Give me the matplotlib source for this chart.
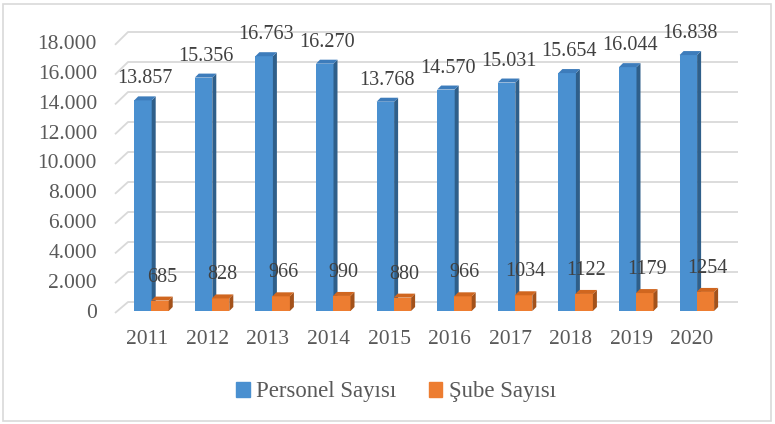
import matplotlib
matplotlib.use("Agg")
import matplotlib.pyplot as plt
from matplotlib.patches import Polygon, Rectangle

years = ["2011", "2012", "2013", "2014", "2015", "2016", "2017", "2018", "2019", "2020"]
personel = [13857, 15356, 16763, 16270, 13768, 14570, 15031, 15654, 16044, 16838]
sube = [685, 828, 966, 990, 880, 966, 1034, 1122, 1179, 1254]
personel_labels = ["13.857", "15.356", "16.763", "16.270", "13.768", "14.570", "15.031", "15.654", "16.044", "16.838"]
sube_labels = ["685", "828", "966", "990", "880", "966", "1034", "1122", "1179", "1254"]
yticks = [0, 2000, 4000, 6000, 8000, 10000, 12000, 14000, 16000, 18000]
ytick_labels = ["0", "2.000", "4.000", "6.000", "8.000", "10.000", "12.000", "14.000", "16.000", "18.000"]
series_names = ["Personel Sayısı", "Şube Sayısı"]

plt.rcParams['font.family'] = ['Liberation Serif', 'DejaVu Serif']

W, H = 775, 424
fig = plt.figure(figsize=(W / 100, H / 100), dpi=100)

# pixel geometry of the plot
PX_C0 = 146.7      # pixel x of first category
PX_STEP = 60.6     # pixels per category
PY_0 = 311.0       # pixel y of value 0 (front)
PY_K = 0.0152      # pixels per unit value
ax_left_px, ax_right_px = 100, 745
ax_top_px, ax_bot_px = 15, 330

ax = fig.add_axes([ax_left_px / W, 1 - ax_bot_px / H,
                   (ax_right_px - ax_left_px) / W, (ax_bot_px - ax_top_px) / H])
ax.set_xlim((ax_left_px - PX_C0) / PX_STEP, (ax_right_px - PX_C0) / PX_STEP)
ax.set_ylim(-(ax_bot_px - PY_0) / PY_K, (PY_0 - ax_top_px) / PY_K)
ax.axis("off")

def dx(px):
    return px / PX_STEP

def dy(px):
    return px / PY_K

# background wall gridlines (3D look)
grid_c = "#d9d9d9"
for v, lab in zip(yticks, ytick_labels):
    y_front = v * (14.9 / 15.2) - dy(2)
    y_back = v * (15.0 / 15.2) + dy(9)
    ax.plot([dx(115 - PX_C0), dx(128 - PX_C0), dx(738 - PX_C0)],
            [y_front, y_back, y_back], color=grid_c, lw=1.3, zorder=1,
            solid_capstyle="butt")
    ax.text(dx(97 - PX_C0), y_front, lab,
            ha="right", va="center", fontsize=15.5, color="#595959")

# bars
bw = dx(17.5)
ddx, ddy = dx(4), dy(4)
styles = [
    dict(off=dx(-12.5), front="#4a90d0", top="#3d7cbb", side="#2f5f8a"),
    dict(off=dx(4.5), front="#ed7d31", top="#d0661f", side="#a3521b"),
]
for s_i, (vals, labs) in enumerate([(personel, personel_labels), (sube, sube_labels)]):
    st = styles[s_i]
    for i, (v, lab) in enumerate(zip(vals, labs)):
        L = i + st["off"]
        z = 3 + s_i
        ax.bar(L, v, width=bw, align="edge", color=st["front"], zorder=z, lw=0)
        side = Polygon([(L + bw, 0), (L + bw + ddx, ddy), (L + bw + ddx, v + ddy), (L + bw, v)],
                       closed=True, facecolor=st["side"], lw=0, zorder=z)
        top = Polygon([(L, v), (L + ddx, v + ddy), (L + bw + ddx, v + ddy), (L + bw, v)],
                      closed=True, facecolor=st["top"], lw=0, zorder=z)
        ax.add_patch(side)
        ax.add_patch(top)
        gap = dy(8) if s_i == 0 else dy(10)
        ax.text(L + (bw + ddx) / 2, v + ddy + gap, lab, ha="center", va="bottom",
                fontsize=14.5, color="#404040", zorder=10)

# category labels
for i, y in enumerate(years):
    ax.text(i, -dy(28), y, ha="center", va="center", fontsize=15.5, color="#595959")

# legend
handles = [Rectangle((0, 0), 1, 1, color=styles[0]["front"]),
           Rectangle((0, 0), 1, 1, color=styles[1]["front"])]
fig.legend(handles, series_names, loc="center", bbox_to_anchor=(396 / W, 1 - 392 / H),
           ncol=2, frameon=False, fontsize=16.4, handlelength=0.6, handleheight=0.6,
           handletextpad=0.3, columnspacing=1.4, labelcolor="#595959")

# outer chart border
fig.add_artist(Rectangle((3 / W, 3 / H), (W - 7) / W, (H - 7) / H, transform=fig.transFigure,
                         fill=False, edgecolor="#d9d9d9", lw=1.2))

fig.savefig("out.png", dpi=100)
